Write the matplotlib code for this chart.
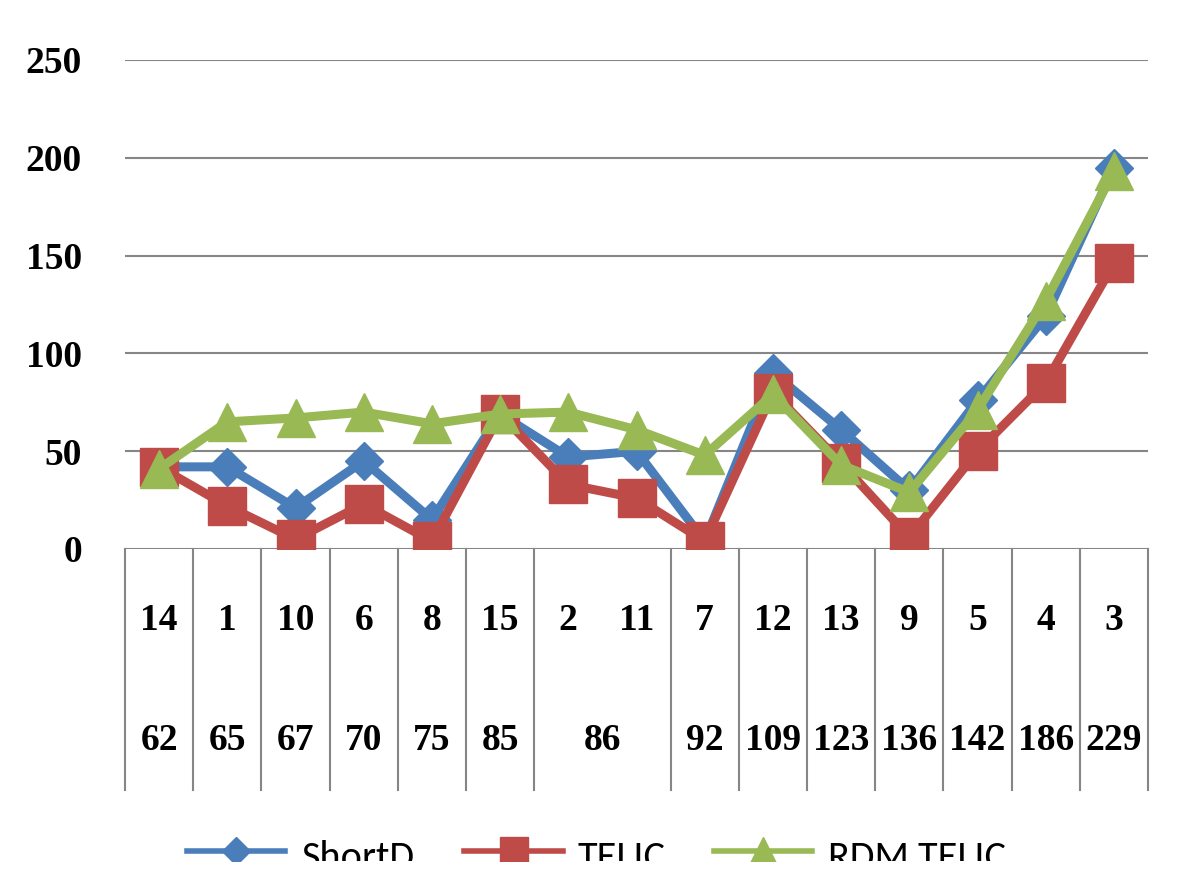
import numpy as np
import matplotlib
matplotlib.use("Agg")
import matplotlib.pyplot as plt
from matplotlib.transforms import blended_transform_factory

# ---- data ----
inner_labels = ["14", "1", "10", "6", "8", "15", "2", "11", "7", "12", "13", "9", "5", "4", "3"]
outer_labels = ["62", "65", "67", "70", "75", "85", "86", "92", "109", "123", "136", "142", "186", "229"]
outer_spans = [1, 1, 1, 1, 1, 1, 2, 1, 1, 1, 1, 1, 1, 1]

short_d = [42, 42, 21, 45, 15, 69, 47, 50, 4, 90, 61, 30, 76, 119, 195]
telic = [42, 22, 5, 23, 4, 69, 33, 26, 4, 80, 44, 6, 50, 85, 146]
rdm_telic = [41, 65, 67, 70, 64, 69, 70, 61, 48, 79, 43, 29, 71, 127, 193]

series_names = ["ShortD", "TELIC", "RDM TELIC"]
yticks = [0, 50, 100, 150, 200, 250]

# ---- style ----
BLUE = "#4A7EBB"
RED = "#BE4B48"
GREEN = "#98B954"
GRID = "#868686"
SERIF = ["Liberation Serif", "DejaVu Serif"]   # lining figures
SANS = ["Carlito", "DejaVu Sans"]

W, H = 1200, 891
fig = plt.figure(figsize=(W / 100, H / 100), dpi=100)
fig.patch.set_facecolor("white")

left, right, top, bottom = 125, 1148, 60, 549
ax = fig.add_axes([left / W, 1 - bottom / H, (right - left) / W, (bottom - top) / H])

x = np.arange(len(inner_labels))
ax.plot(x, short_d, color=BLUE, lw=6.5, marker="D", ms=19, zorder=3)
ax.plot(x, telic, color=RED, lw=6.5, marker="s", ms=27, zorder=4)
ax.plot(x, rdm_telic, color=GREEN, lw=6.5, marker="^", ms=27, zorder=5)

ax.set_xlim(-0.5, len(inner_labels) - 0.5)
ax.set_ylim(0, 250)
ax.set_yticks(yticks)
ax.set_yticklabels([str(t) for t in yticks], family=SERIF,
                   fontweight="bold", fontsize=27)
ax.tick_params(axis="y", length=0, pad=31)
ax.set_xticks([])
for s in ax.spines.values():
    s.set_visible(False)
for t in yticks:
    ax.axhline(t, color=GRID, lw=1.5, zorder=1)

# ---- multi-level category table under the axis ----
trans = blended_transform_factory(ax.transData, ax.transAxes)
ph = bottom - top
table_bottom = -(790 - bottom) / ph
inner_y = -(616 - bottom) / ph
outer_y = -(736 - bottom) / ph

bounds = np.concatenate([[0], np.cumsum(outer_spans)]) - 0.5
for b in bounds:
    ax.plot([b, b], [0, table_bottom], color=GRID, lw=1.5, transform=trans,
            clip_on=False)
for i, lab in enumerate(inner_labels):
    ax.text(i, inner_y, lab, transform=trans, ha="center", va="center_baseline",
            family=SERIF, fontweight="bold", fontsize=27)
for lab, a, b in zip(outer_labels, bounds[:-1], bounds[1:]):
    ax.text((a + b) / 2, outer_y, lab, transform=trans, ha="center",
            va="center_baseline", family=SERIF, fontweight="bold", fontsize=27)

# ---- legend (cut off at the bottom like the source image) ----
lax = fig.add_axes([0, 1 - 861 / H, 1, (861 - 826) / H])
lax.set_xlim(0, W)
lax.set_ylim(861, 826)
lax.axis("off")
legend_items = [
    (series_names[0], BLUE, "D", 14, 187, 285, 302),
    (series_names[1], RED, "s", 20, 464, 563, 577),
    (series_names[2], GREEN, "^", 20, 714, 812, 828),
]
for name, col, mk, ms, x0, x1, tx in legend_items:
    lax.plot([x0, x1], [851, 851], color=col, lw=4)
    lax.plot([(x0 + x1) / 2], [851], color=col, marker=mk, ms=ms)
    lax.text(tx, 869, name, ha="left", va="baseline", family=SANS,
             fontsize=29, clip_on=True)

fig.savefig("out.png", dpi=100, facecolor="white")
